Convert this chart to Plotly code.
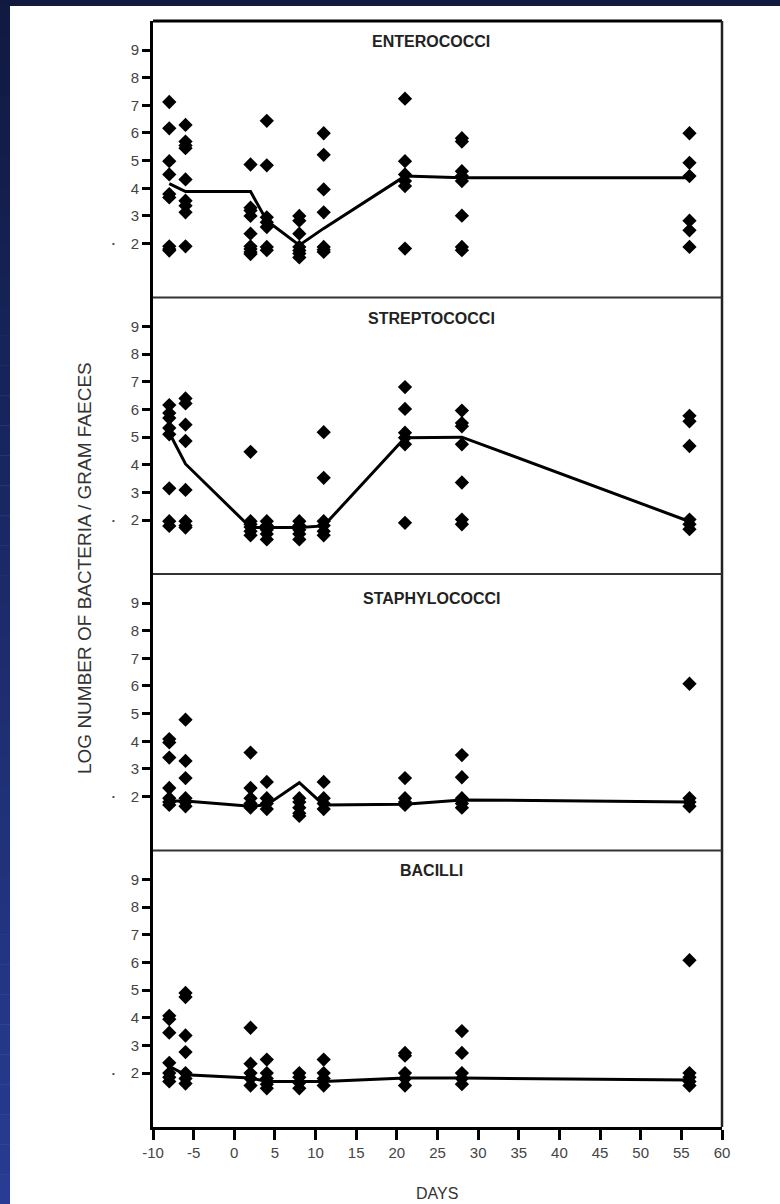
import plotly.graph_objects as go

# ---------------- data ----------------
days = [-8, -6, 2, 4, 8, 11, 21, 28, 56]

entero_points = [
    [7.12, 6.17, 4.98, 4.5, 3.79, 3.67, 1.9, 1.8, 1.75],
    [6.29, 5.69, 5.55, 5.45, 4.32, 3.55, 3.37, 3.13, 1.9],
    [4.86, 3.3, 3.2, 3.0, 2.36, 1.9, 1.8, 1.7, 1.62],
    [6.44, 4.83, 2.95, 2.77, 2.6, 1.88, 1.76],
    [3.0, 2.83, 2.36, 1.88, 1.75, 1.64, 1.5],
    [5.99, 5.21, 3.96, 3.13, 1.88, 1.78, 1.7],
    [7.24, 4.98, 4.5, 4.26, 4.08, 1.82],
    [5.81, 5.69, 4.62, 4.44, 4.26, 3.01, 1.88, 1.76],
    [5.99, 4.92, 4.44, 2.83, 2.48, 1.88],
]
entero_median = [4.17, 3.88, 3.88, 2.83, 1.94, 2.55, 4.44, 4.38, 4.38]

strepto_points = [
    [6.16, 5.87, 5.69, 5.33, 5.1, 3.15, 1.96, 1.79],
    [6.4, 6.22, 5.45, 4.86, 3.09, 1.96, 1.8, 1.73],
    [4.47, 1.96, 1.85, 1.75, 1.6, 1.45],
    [1.96, 1.8, 1.65, 1.5, 1.3],
    [1.96, 1.8, 1.65, 1.5, 1.3],
    [5.18, 3.53, 1.96, 1.8, 1.6, 1.45],
    [6.81, 6.02, 5.16, 4.98, 4.74, 1.9],
    [5.96, 5.51, 5.39, 4.74, 3.36, 2.02, 1.85],
    [5.77, 5.57, 4.68, 2.02, 1.85, 1.67],
]
strepto_median = [5.16, 4.03, 1.73, 1.73, 1.73, 1.79, 4.98, 5.0, 1.95]

staphylo_points = [
    [4.08, 3.96, 3.41, 2.31, 1.94, 1.8, 1.7],
    [4.78, 3.29, 2.67, 1.94, 1.8, 1.65],
    [3.59, 2.31, 1.94, 1.75, 1.6],
    [2.53, 1.94, 1.75, 1.55],
    [1.94, 1.8, 1.6, 1.4, 1.3],
    [2.53, 1.94, 1.75, 1.55],
    [2.67, 1.94, 1.8, 1.7],
    [3.5, 2.7, 1.94, 1.75, 1.6],
    [6.08, 1.94, 1.8, 1.65],
]
staphylo_median = [1.84, 1.84, 1.65, 1.7, 2.5, 1.7, 1.72, 1.88, 1.8]

bacilli_points = [
    [4.07, 3.95, 3.46, 2.37, 2.0, 1.85, 1.7],
    [4.9, 4.75, 3.36, 2.76, 2.0, 1.8, 1.62],
    [3.64, 2.34, 2.0, 1.8, 1.55],
    [2.49, 2.0, 1.8, 1.6, 1.45],
    [2.0, 1.85, 1.65, 1.45],
    [2.49, 2.0, 1.8, 1.55],
    [2.73, 2.63, 2.0, 1.8, 1.55],
    [3.52, 2.73, 2.0, 1.8, 1.6],
    [6.08, 2.0, 1.85, 1.7, 1.55],
]
bacilli_median = [2.24, 1.94, 1.82, 1.7, 1.7, 1.7, 1.82, 1.82, 1.75]

panel_titles = ["ENTEROCOCCI", "STREPTOCOCCI", "STAPHYLOCOCCI", "BACILLI"]
x_ticks = list(range(-10, 61, 5))
y_ticks = [2, 3, 4, 5, 6, 7, 8, 9]
y_title = "LOG NUMBER OF BACTERIA / GRAM FAECES"
x_title = "DAYS"

# ---------------- geometry helpers ----------------
W, H = 780, 1204
L, R, T, B = 153, 58, 21, 77
PW, PH = W - L - R, H - T - B


def px_x(x):
    return (x - L) / PW


def px_y(y):
    return (H - B - y) / PH


panels = [
    (entero_points, entero_median),
    (strepto_points, strepto_median),
    (staphylo_points, staphylo_median),
    (bacilli_points, bacilli_median),
]

fig = go.Figure()
font_family = "Liberation Sans, Arial, sans-serif"

for i, (pts, med) in enumerate(panels):
    yname = "y" if i == 0 else f"y{i + 1}"
    xs, ys = [], []
    for d, vals in zip(days, pts):
        for v in vals:
            xs.append(d)
            ys.append(v)
    fig.add_trace(go.Scatter(
        x=xs, y=ys, mode="markers", xaxis="x", yaxis=yname,
        marker=dict(symbol="diamond", size=11, color="black", line=dict(width=0)),
        showlegend=False, hoverinfo="skip"))
    fig.add_trace(go.Scatter(
        x=days, y=med, mode="lines", xaxis="x", yaxis=yname,
        line=dict(color="black", width=3), showlegend=False, hoverinfo="skip"))

domains = [[0.75, 1.0], [0.5, 0.75], [0.25, 0.5], [0.0, 0.25]]
yax_common = dict(
    range=[0.05, 10.05], tickvals=y_ticks, ticktext=[str(t) for t in y_ticks],
    showgrid=False, zeroline=False, showline=True, linecolor="black", linewidth=3,
    ticks="outside", ticklen=8, tickwidth=2.5, tickcolor="black",
    tickfont=dict(family=font_family, size=15, color="#444"),
    anchor="x", fixedrange=True,
)
layout_axes = {}
for i, dom in enumerate(domains):
    key = "yaxis" if i == 0 else f"yaxis{i + 1}"
    layout_axes[key] = dict(domain=dom, **yax_common)

fig.update_layout(
    width=W, height=H,
    margin=dict(l=L, r=R, t=T, b=B),
    paper_bgcolor="white", plot_bgcolor="white",
    xaxis=dict(
        range=[-10, 60], tickvals=x_ticks, ticktext=[str(t) for t in x_ticks],
        showgrid=False, zeroline=False, showline=True, linecolor="black", linewidth=3,
        ticks="outside", ticklen=10, tickwidth=2.5, tickcolor="black",
        tickfont=dict(family=font_family, size=15, color="#444"),
        anchor="y4", fixedrange=True,
    ),
    **layout_axes,
)

shapes = []
# top dark strip
shapes.append(dict(type="rect", xref="paper", yref="paper",
                   x0=px_x(0), x1=px_x(W), y0=px_y(0), y1=px_y(6),
                   fillcolor="#0f1a3e", line=dict(width=0), layer="above"))
# left gradient strip (stepped bands)
n = 40
c0 = (0x10, 0x1a, 0x42)
c1 = (0x27, 0x3c, 0x92)
for k in range(n):
    t0 = 6 + (H - 6) * k / n
    t1 = 6 + (H - 6) * (k + 1) / n + 0.5
    f = k / (n - 1)
    col = "#%02x%02x%02x" % tuple(int(round(a + (b - a) * f)) for a, b in zip(c0, c1))
    shapes.append(dict(type="rect", xref="paper", yref="paper",
                       x0=px_x(0), x1=px_x(10), y0=px_y(t1), y1=px_y(t0),
                       fillcolor=col, line=dict(width=0), layer="above"))
# top frame
shapes.append(dict(type="line", xref="paper", yref="paper", x0=0, x1=1, y0=1, y1=1,
                   line=dict(color="black", width=3)))
# right frame
shapes.append(dict(type="line", xref="paper", yref="paper", x0=1, x1=1, y0=0, y1=1,
                   line=dict(color="#222", width=2.5)))
# panel separators
for yv in [0.75, 0.5, 0.25]:
    shapes.append(dict(type="line", xref="paper", yref="paper", x0=0, x1=1, y0=yv, y1=yv,
                       line=dict(color="#333", width=2)))
fig.update_layout(shapes=shapes)

annotations = []
title_y_px = [42, 318, 598, 870]
for title, ty in zip(panel_titles, title_y_px):
    annotations.append(dict(text="<b>" + title + "</b>", xref="paper", yref="paper",
                            x=px_x(431), y=px_y(ty), showarrow=False,
                            xanchor="center", yanchor="middle",
                            font=dict(family=font_family, size=16, color="#222"),
                            ))
for i in range(4):
    yref = "y" if i == 0 else f"y{i + 1}"
    annotations.append(dict(text="•", xref="paper", yref=yref, x=px_x(113), y=2,
                            showarrow=False, xanchor="center", yanchor="middle",
                            font=dict(family=font_family, size=8, color="#444")))
annotations.append(dict(text=y_title, xref="paper", yref="paper",
                        x=px_x(84), y=px_y(568), textangle=-90, showarrow=False,
                        xanchor="center", yanchor="middle",
                        font=dict(family=font_family, size=19, color="#333")))
annotations.append(dict(text=x_title, xref="paper", yref="paper",
                        x=px_x(437), y=px_y(1193), showarrow=False,
                        xanchor="center", yanchor="middle",
                        font=dict(family=font_family, size=16, color="#333")))
fig.update_layout(annotations=annotations)

fig.write_html("out.html")
